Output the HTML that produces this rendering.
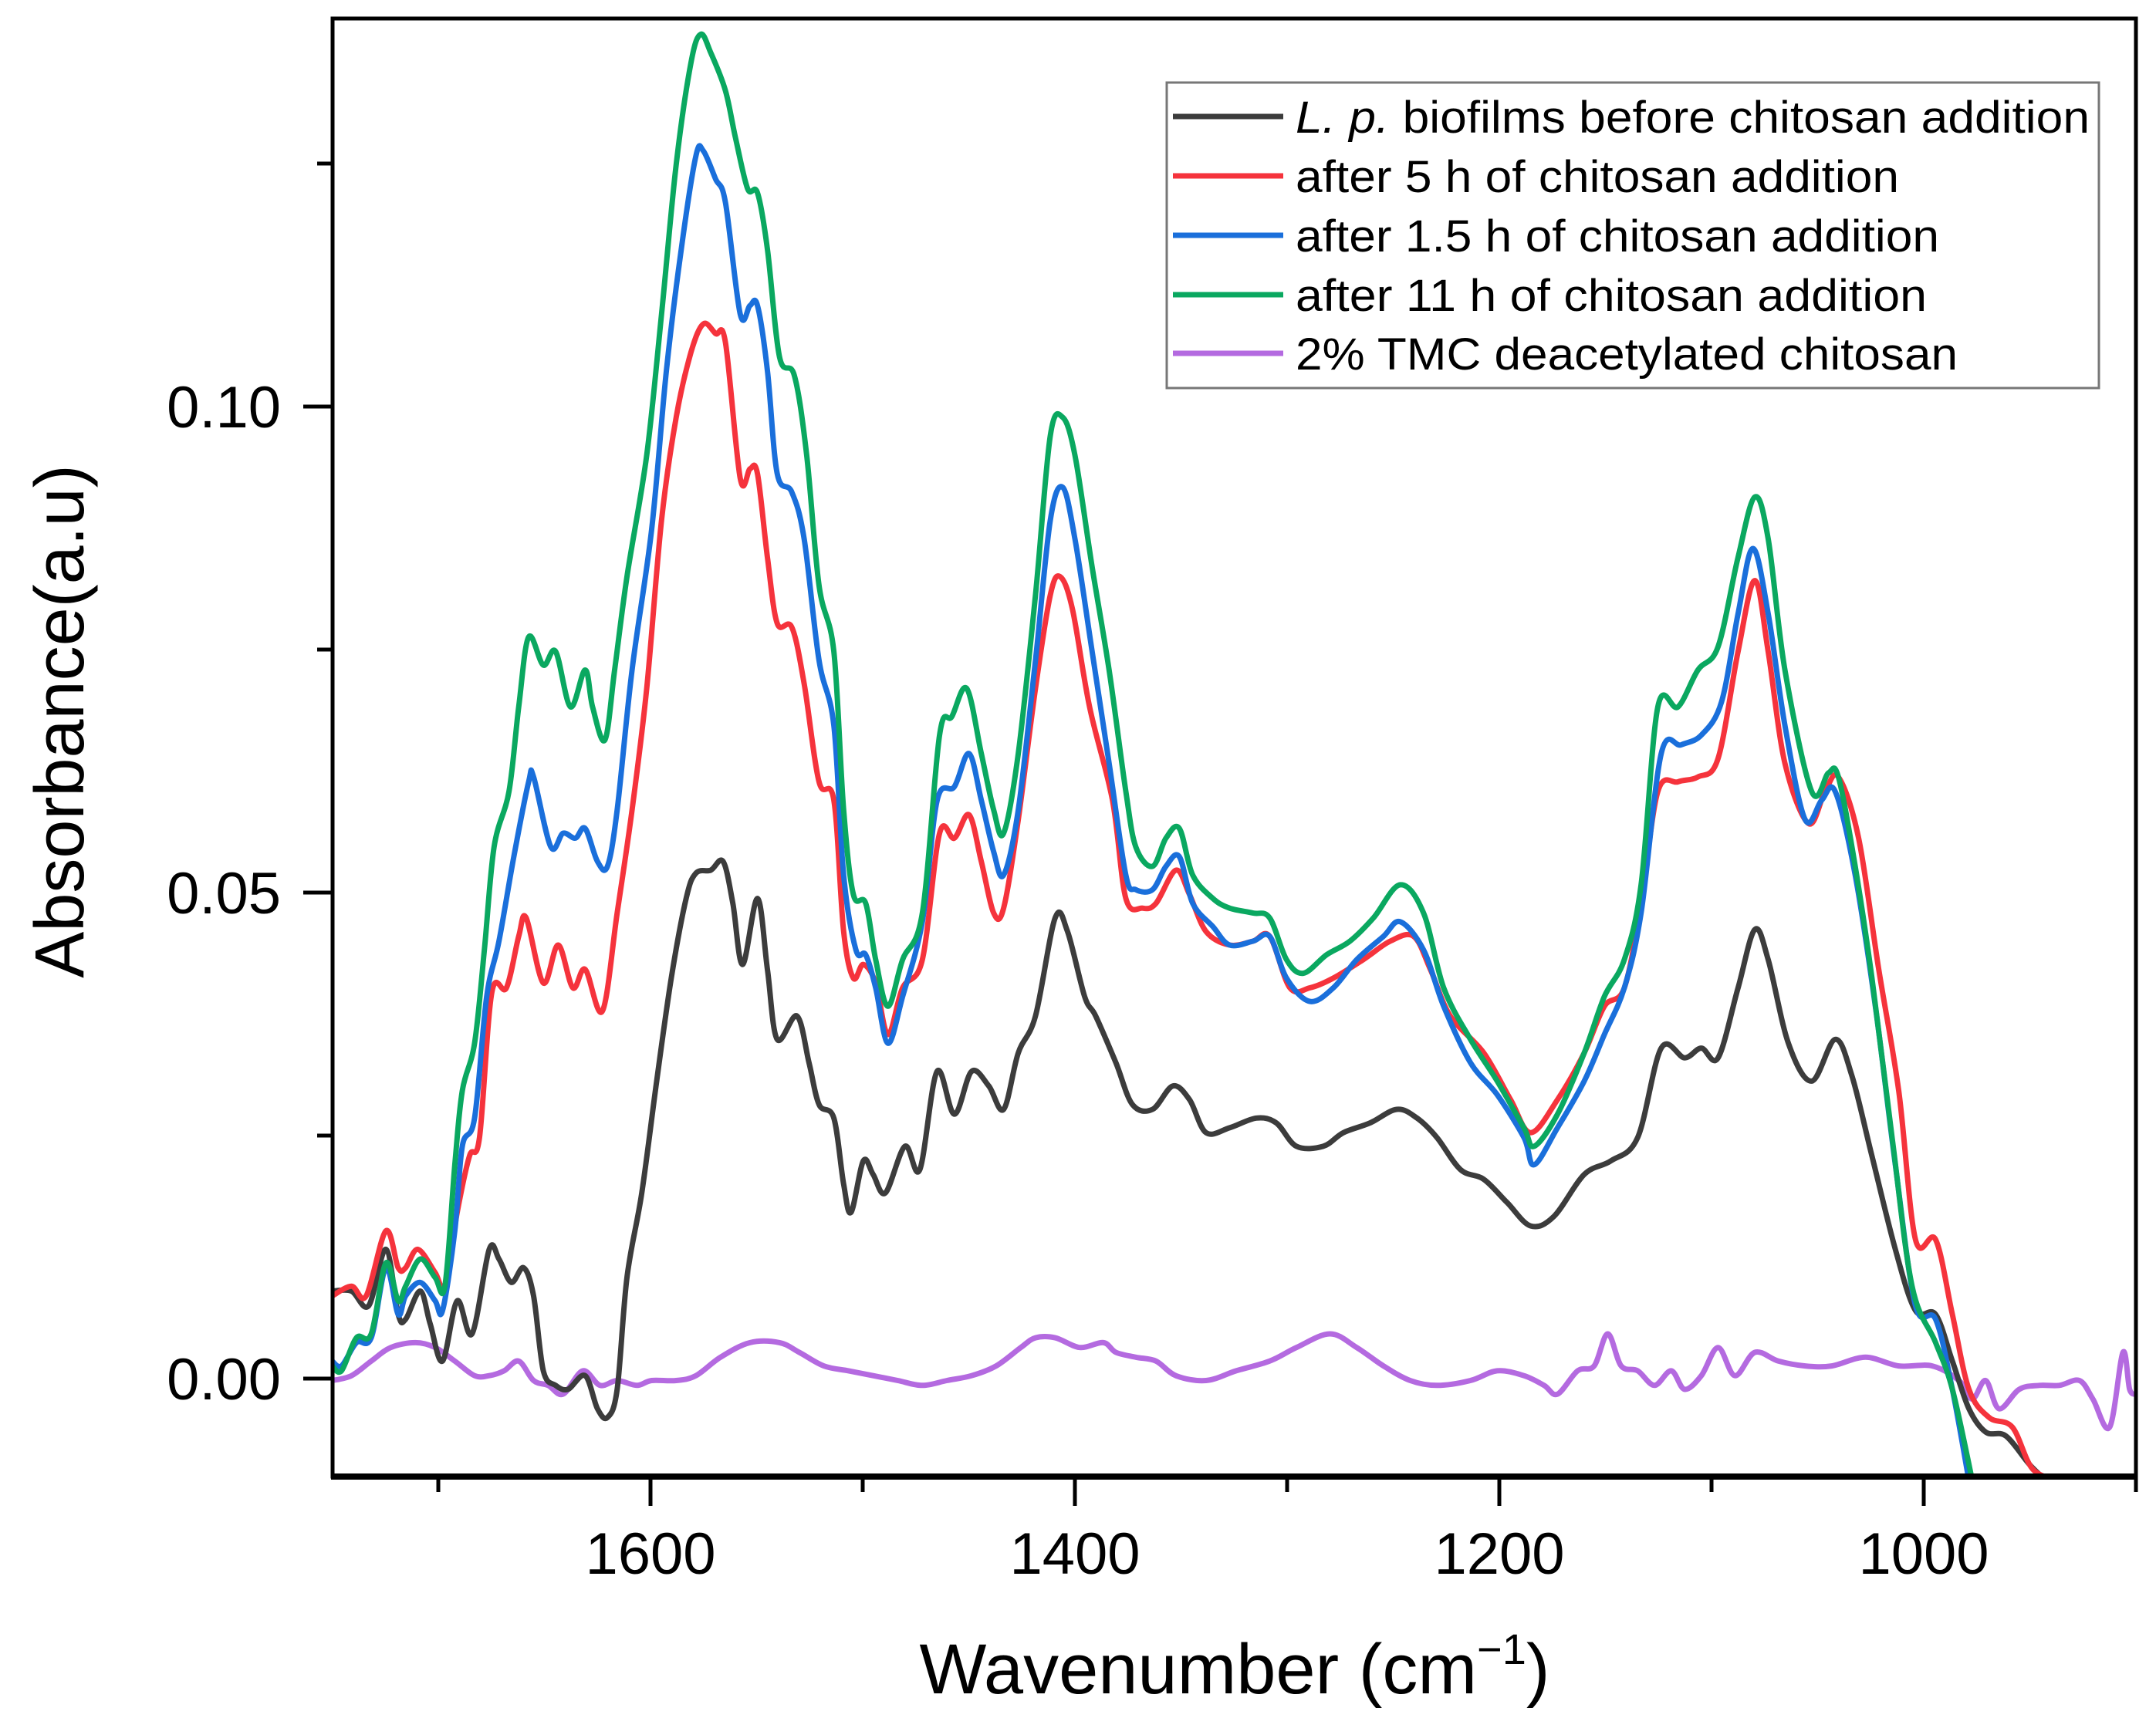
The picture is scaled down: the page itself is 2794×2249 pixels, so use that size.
<!DOCTYPE html>
<html><head><meta charset="utf-8"><style>
html,body{margin:0;padding:0;background:#fff;}
svg{display:block;font-family:"Liberation Sans",Arial,sans-serif;}
</style></head><body>
<svg id="chart" width="2794" height="2249" viewBox="0 0 2794 2249" xmlns="http://www.w3.org/2000/svg">
<defs><clipPath id="plotclip"><rect x="431" y="24" width="2337" height="1890"/></clipPath></defs>
<rect width="2794" height="2249" fill="#fff"/>
<g id="series" clip-path="url(#plotclip)"></g>
<g id="axes"></g>
<g id="legend">
  <rect x="1512" y="107" width="1208" height="396" fill="#fff" stroke="#777" stroke-width="3"/>
  <line x1="1520" y1="151" x2="1663" y2="151" stroke="#3c3c3c" stroke-width="7"/>
  <line x1="1520" y1="228" x2="1663" y2="228" stroke="#f5333c" stroke-width="7"/>
  <line x1="1520" y1="305" x2="1663" y2="305" stroke="#1a6fdb" stroke-width="7"/>
  <line x1="1520" y1="382" x2="1663" y2="382" stroke="#0aa860" stroke-width="7"/>
  <line x1="1520" y1="458" x2="1663" y2="458" stroke="#b46ae0" stroke-width="7"/>
  <text x="1679" y="172" font-size="58" textLength="1029" lengthAdjust="spacingAndGlyphs"><tspan font-style="italic">L. p.</tspan> biofilms before chitosan addition</text>
  <text x="1679" y="249" font-size="58" textLength="782" lengthAdjust="spacingAndGlyphs">after 5 h of chitosan addition</text>
  <text x="1679" y="326" font-size="58" textLength="834" lengthAdjust="spacingAndGlyphs">after 1.5 h of chitosan addition</text>
  <text x="1679" y="403" font-size="58" textLength="818" lengthAdjust="spacingAndGlyphs">after 11 h of chitosan addition</text>
  <text x="1679" y="479" font-size="58" textLength="858" lengthAdjust="spacingAndGlyphs">2% TMC deacetylated chitosan</text>
</g>
<text x="1600" y="2195" font-size="92" text-anchor="middle">Wavenumber (cm<tspan font-size="56" dy="-38">−1</tspan><tspan dy="38">)</tspan></text>
<text transform="translate(108,935) rotate(-90)" font-size="90" text-anchor="middle">Absorbance(a.u)</text>
</svg>
<script>
const xMajorTicks = [1600, 1400, 1200, 1000];
const xMinorTicks = [1700, 1500, 1300, 1100, 900];
const yMajorTicks = [0.00, 0.05, 0.10];
const yTickLabels = ["0.00", "0.05", "0.10"];
const yMinorTicks = [0.025, 0.075, 0.125];

const wnGreen = [1750,1745.6,1738.6,1731.6,1724.7,1718.9,1715.4,1708.5,1701.5,1696.9,1692.2,1688.7,1682.9,1678.3,1673.7,1666.7,1662.1,1657.4,1650.5,1644.7,1637.7,1630.8,1627.3,1621.5,1616.9,1611.1,1601.8,1594.8,1587.9,1580.9,1576.3,1571.6,1564.7,1560,1554.2,1549.6,1544.9,1539.2,1532.2,1526.4,1520.6,1513.6,1509,1504.4,1498.6,1493.9,1488.1,1481.2,1471.9,1463.8,1458,1451,1444.1,1438.3,1433.6,1426.7,1418.6,1411.6,1405.8,1400,1391.9,1383.9,1376,1371.3,1363.4,1357.1,1350.8,1344.5,1335,1327.1,1316.1,1308.2,1300.3,1292.4,1281.4,1270.4,1259.3,1246.7,1235.7,1226.2,1213.6,1201,1188.4,1183.6,1172.6,1160,1150.5,1141.1,1133.2,1125.3,1115.8,1106.4,1096.9,1087.5,1079.6,1073.3,1065.4,1052.8,1044.9,1040.2,1032.3,1024.4,1014.9,1005.5,994.4,986.5,977.1];
const absGreen = [0.0013,0.0008,0.0042,0.0046,0.0119,0.0080,0.0095,0.0123,0.0104,0.0095,0.0220,0.0296,0.0345,0.0441,0.0547,0.0604,0.0691,0.0763,0.0734,0.0748,0.0691,0.0729,0.0691,0.0657,0.0729,0.0825,0.0950,0.1095,0.1249,0.1354,0.1383,0.1364,0.1325,0.1277,0.1224,0.1220,0.1162,0.1051,0.1032,0.0950,0.0816,0.0748,0.0585,0.0498,0.0489,0.0431,0.0383,0.0431,0.0479,0.0662,0.0681,0.0710,0.0643,0.0585,0.0561,0.0643,0.0806,0.0970,0.0989,0.0950,0.0835,0.0729,0.0604,0.0547,0.0527,0.0556,0.0566,0.0518,0.0494,0.0484,0.0479,0.0474,0.0431,0.0417,0.0436,0.0450,0.0474,0.0508,0.0479,0.0402,0.0349,0.0306,0.0258,0.0239,0.0272,0.0335,0.0393,0.0431,0.0508,0.0691,0.0691,0.0729,0.0753,0.0845,0.0907,0.0864,0.0729,0.0604,0.0623,0.0619,0.0527,0.0412,0.0248,0.0095,0.0037,-0.0011,-0.0105];

const wnBlue = [1750,1745.6,1738.6,1731.6,1724.7,1718.9,1715.4,1708.5,1701.5,1698,1692.2,1688.7,1682.9,1677.2,1671.4,1664.4,1657.4,1655.1,1647,1641.2,1635.4,1630.8,1625,1620.3,1615.7,1608.7,1599.5,1592.5,1585.5,1578.6,1575.1,1569.3,1564.7,1557.7,1553.1,1549.6,1544.9,1540.3,1533.4,1527.6,1520.6,1513.6,1509,1503.2,1498.6,1493.9,1488.1,1481.2,1471.9,1464.9,1456.8,1449.9,1444.1,1438.3,1433.6,1426.7,1418.6,1411.6,1405.8,1400,1391.9,1383.9,1376,1371.3,1363.4,1357.1,1350.8,1344.5,1335,1327.1,1316.1,1308.2,1300.3,1289.3,1278.2,1267.2,1254.6,1246.7,1235.7,1226.2,1213.6,1201,1188.4,1183.6,1172.6,1160,1150.5,1141.1,1133.2,1123.7,1114.3,1104.8,1095.3,1087.5,1080.5,1073.3,1065.4,1055.9,1048.1,1041.7,1032.3,1022.8,1013.4,1003.9,994.4,986.5,978.7];
const absBlue = [0.0018,0.0013,0.0037,0.0042,0.0114,0.0066,0.0085,0.0099,0.0080,0.0070,0.0152,0.0239,0.0268,0.0393,0.0450,0.0537,0.0614,0.0619,0.0547,0.0561,0.0556,0.0566,0.0532,0.0527,0.0585,0.0729,0.0873,0.1037,0.1162,0.1258,0.1263,0.1234,0.1210,0.1095,0.1104,0.1104,0.1037,0.0931,0.0912,0.0864,0.0739,0.0672,0.0518,0.0441,0.0436,0.0402,0.0345,0.0393,0.0470,0.0595,0.0609,0.0643,0.0595,0.0542,0.0518,0.0585,0.0739,0.0883,0.0917,0.0864,0.0748,0.0633,0.0518,0.0503,0.0503,0.0527,0.0537,0.0489,0.0465,0.0446,0.0450,0.0455,0.0412,0.0388,0.0402,0.0431,0.0455,0.0470,0.0441,0.0383,0.0325,0.0292,0.0248,0.0220,0.0258,0.0306,0.0354,0.0402,0.0479,0.0643,0.0652,0.0662,0.0696,0.0787,0.0854,0.0787,0.0672,0.0575,0.0595,0.0604,0.0518,0.0383,0.0220,0.0075,0.0061,-0.0011,-0.0105];

const wnRed = [1750,1740.9,1734,1724.7,1718.9,1715.4,1709.6,1701.5,1696.9,1691.1,1685.3,1680.6,1674.8,1667.9,1662.1,1658.6,1650.5,1643.5,1636.6,1630.8,1622.7,1615.7,1608.7,1601.8,1594.8,1587.9,1580.9,1575.1,1569.3,1564.7,1557.7,1553.1,1549.6,1544.9,1540.3,1533.4,1527.6,1520.6,1513.6,1509,1504.4,1499.7,1493.9,1488.1,1481.2,1471.9,1463.8,1456.8,1449.9,1444.1,1438.3,1433.6,1426.7,1418.6,1411.6,1407,1401.2,1393.1,1382.3,1376,1368.1,1361.8,1352.4,1346,1338.2,1327.1,1316.1,1308.2,1298.7,1289.3,1278.2,1264.1,1251.4,1240.4,1232.5,1223.1,1207.3,1194.7,1185.2,1172.6,1160,1150.5,1141.1,1133.2,1125.3,1115.8,1106.4,1096.9,1087.5,1079.6,1073.3,1065.4,1054.3,1046.5,1040.2,1030.7,1021.2,1011.8,1003.9,994.4,986.5,978.7,969.2,958.2,948.7,936.1];
const absRed = [0.0085,0.0095,0.0085,0.0152,0.0114,0.0114,0.0133,0.0109,0.0095,0.0171,0.0229,0.0248,0.0397,0.0402,0.0455,0.0474,0.0407,0.0446,0.0402,0.0421,0.0378,0.0479,0.0585,0.0710,0.0883,0.0989,0.1056,0.1085,0.1075,0.1066,0.0926,0.0936,0.0931,0.0845,0.0777,0.0773,0.0715,0.0614,0.0595,0.0460,0.0412,0.0426,0.0407,0.0354,0.0402,0.0431,0.0561,0.0556,0.0580,0.0532,0.0479,0.0484,0.0575,0.0710,0.0806,0.0825,0.0792,0.0691,0.0595,0.0494,0.0484,0.0489,0.0523,0.0498,0.0460,0.0446,0.0450,0.0455,0.0402,0.0402,0.0412,0.0431,0.0450,0.0455,0.0421,0.0373,0.0335,0.0287,0.0253,0.0287,0.0335,0.0383,0.0402,0.0489,0.0604,0.0614,0.0619,0.0638,0.0748,0.0821,0.0748,0.0633,0.0571,0.0604,0.0619,0.0556,0.0421,0.0296,0.0143,0.0143,0.0066,-0.0011,-0.0040,-0.0050,-0.0093,-0.0105];

const wnBlack = [1750,1740.9,1732.8,1724.7,1718.9,1715.4,1708.5,1703.8,1698,1691.1,1684.1,1676,1671.4,1665.6,1659.8,1655.1,1650.5,1644.7,1638.9,1630.8,1625,1620.3,1615.7,1611.1,1604.1,1597.1,1590.2,1583.2,1578.6,1571.6,1565.8,1561.2,1556.6,1549.6,1544.9,1540.3,1531,1525.3,1520.6,1513.6,1509,1505.5,1499.7,1495.1,1489.3,1480.1,1473.1,1465,1456.8,1448.7,1440.6,1433.6,1426.7,1418.6,1409.3,1403.5,1395.4,1390.2,1380.7,1372.9,1363.4,1353.9,1346,1338.2,1327.1,1314.5,1305.1,1295.6,1283,1273.5,1260.9,1248.3,1238.8,1229.4,1218.3,1207.3,1196.3,1185.2,1174.2,1160,1147.4,1134.8,1123.7,1112.7,1104.8,1096.9,1087.5,1079.6,1073.3,1063.8,1052.8,1041.7,1033.8,1024.4,1013.4,1003.9,994.4,986.5,978.7,970.8,961.3,950.3,942.4];
const absBlack = [0.0090,0.0090,0.0075,0.0133,0.0066,0.0061,0.0090,0.0056,0.0018,0.0080,0.0046,0.0133,0.0123,0.0099,0.0114,0.0085,0.0008,-0.0007,-0.0011,0.0003,-0.0031,-0.0040,-0.0011,0.0104,0.0191,0.0306,0.0412,0.0494,0.0520,0.0523,0.0532,0.0489,0.0426,0.0494,0.0421,0.0349,0.0373,0.0325,0.0282,0.0268,0.0200,0.0171,0.0224,0.0210,0.0191,0.0239,0.0215,0.0316,0.0272,0.0316,0.0301,0.0277,0.0335,0.0373,0.0474,0.0460,0.0393,0.0373,0.0325,0.0282,0.0277,0.0301,0.0287,0.0253,0.0258,0.0268,0.0263,0.0239,0.0239,0.0253,0.0263,0.0277,0.0268,0.0248,0.0215,0.0205,0.0181,0.0157,0.0167,0.0210,0.0224,0.0248,0.0340,0.0330,0.0340,0.0330,0.0402,0.0462,0.0431,0.0345,0.0306,0.0349,0.0311,0.0229,0.0133,0.0070,0.0066,0.0018,-0.0031,-0.0055,-0.0059,-0.0088,-0.0105];

const wnTmc = [1750,1740.9,1731.6,1722.4,1710.8,1701.5,1692.2,1682.9,1676,1669,1662.1,1655.1,1648.2,1641.2,1631.9,1623.8,1615.7,1606.4,1599.5,1587.9,1578.6,1567,1553.1,1539.2,1529.9,1518.3,1506.7,1495.1,1483.5,1471.9,1460.3,1448.7,1437.1,1425.5,1418.6,1409.3,1397.7,1386.6,1380.7,1371.3,1361.8,1352.4,1338.2,1324,1308.2,1295.6,1279.8,1267.2,1254.6,1242,1229.4,1213.6,1201,1188.4,1178.9,1172.6,1163.1,1155.3,1148.9,1142.6,1134.8,1126.9,1119,1112.7,1104.8,1096.9,1089,1079.6,1068.5,1055.9,1043.3,1027.5,1011.8,996,983.4,977.1,970.8,964.5,955,945.5,936.1,926.6,920.3,912.4,906.1,903,900];
const absTmc = [-0.0002,0.0003,0.0018,0.0032,0.0037,0.0032,0.0018,0.0003,0.0003,0.0008,0.0018,-0.0002,-0.0007,-0.0016,0.0008,-0.0007,-0.0002,-0.0007,-0.0002,-0.0002,0.0003,0.0022,0.0037,0.0037,0.0027,0.0013,0.0008,0.0003,-0.0002,-0.0007,-0.0002,0.0003,0.0013,0.0032,0.0042,0.0042,0.0032,0.0037,0.0027,0.0022,0.0018,0.0003,-0.0002,0.0008,0.0018,0.0032,0.0046,0.0032,0.0013,-0.0002,-0.0007,-0.0002,0.0008,0.0003,-0.0007,-0.0016,0.0008,0.0013,0.0046,0.0013,0.0008,-0.0007,0.0008,-0.0011,0.0003,0.0032,0.0003,0.0027,0.0018,0.0013,0.0013,0.0022,0.0013,0.0013,-0.0002,-0.0021,-0.0002,-0.0031,-0.0011,-0.0007,-0.0007,-0.0002,-0.0021,-0.0050,0.0027,-0.0011,-0.0016];

function xScale(wn){ return 843 + (1600 - wn) * 2.75; }
function yScale(v){ return 1787 - v * 12600; }

const svgNS = "http://www.w3.org/2000/svg";
function pathFrom(wns, vals){
  const p = wns.map((w,i)=>[xScale(w), yScale(vals[i])]);
  let d = "M" + p[0][0].toFixed(1) + "," + p[0][1].toFixed(1);
  for(let i=0;i<p.length-1;i++){
    const p0=p[Math.max(0,i-1)], p1=p[i], p2=p[i+1], p3=p[Math.min(p.length-1,i+2)];
    const c1x=p1[0]+(p2[0]-p0[0])/6, c1y=p1[1]+(p2[1]-p0[1])/6;
    const c2x=p2[0]-(p3[0]-p1[0])/6, c2y=p2[1]-(p3[1]-p1[1])/6;
    d += " C"+c1x.toFixed(1)+","+c1y.toFixed(1)+" "+c2x.toFixed(1)+","+c2y.toFixed(1)+" "+p2[0].toFixed(1)+","+p2[1].toFixed(1);
  }
  return d;
}
const seriesG = document.getElementById("series");
function addSeries(wns, vals, color, name){
  const el = document.createElementNS(svgNS, "path");
  el.setAttribute("d", pathFrom(wns, vals));
  el.setAttribute("fill", "none");
  el.setAttribute("stroke", color);
  el.setAttribute("stroke-width", "7");
  el.setAttribute("stroke-linejoin", "round");
  
  
  seriesG.appendChild(el);
}
addSeries(wnTmc, absTmc, "#b46ae0", "series-tmc-chitosan");
addSeries(wnBlack, absBlack, "#3c3c3c", "series-before-chitosan");
addSeries(wnRed, absRed, "#f5333c", "series-after-5h");
addSeries(wnBlue, absBlue, "#1a6fdb", "series-after-1-5h");
addSeries(wnGreen, absGreen, "#0aa860", "series-after-11h");

const axesG = document.getElementById("axes");
function mk(tag, attrs){ const e=document.createElementNS(svgNS, tag); for(const k in attrs) e.setAttribute(k, attrs[k]); axesG.appendChild(e); return e; }
const frame = mk("path", {d:"M431,1914 L431,24 L2768,24 L2768,1914 Z", fill:"none", stroke:"#000", "stroke-width":"5"});


const xAxis = mk("line", {x1:"429", y1:"1914", x2:"2770", y2:"1914", stroke:"#000", "stroke-width":"8"});


xMajorTicks.forEach(t=>{
  const x=xScale(t);
  const tk = mk("line", {x1:x, y1:1914, x2:x, y2:1952, stroke:"#000", "stroke-width":"5"});
  
  
  const lb = mk("text", {x:x, y:2040, "font-size":"76", "text-anchor":"middle"});
  lb.textContent = String(t);
  
  
});
xMinorTicks.forEach(t=>{
  const x=xScale(t);
  const tk = mk("line", {x1:x, y1:1914, x2:x, y2:1934, stroke:"#000", "stroke-width":"5"});
  
  
});
yMajorTicks.forEach((t,i)=>{
  const y=yScale(t);
  const tk = mk("line", {x1:393, y1:y, x2:431, y2:y, stroke:"#000", "stroke-width":"5"});
  
  
  const lb = mk("text", {x:364, y:y+27, "font-size":"76", "text-anchor":"end"});
  lb.textContent = yTickLabels[i];
  
  
});
yMinorTicks.forEach(t=>{
  const y=yScale(t);
  const tk = mk("line", {x1:411, y1:y, x2:431, y2:y, stroke:"#000", "stroke-width":"5"});
  
  
});
</script>
</body></html>
